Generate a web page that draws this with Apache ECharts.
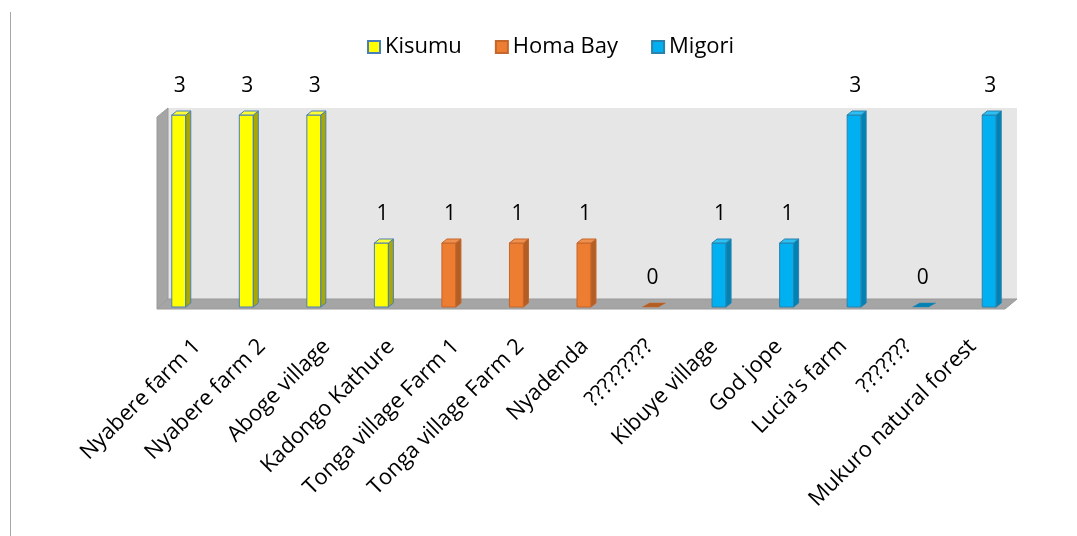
<!DOCTYPE html>
<html lang="en">
  <head>
    <meta charset="utf-8" />
    <title>Sites per county</title>
    <script src="https://cdn.jsdelivr.net/npm/echarts@6/dist/echarts.min.js"></script>
    <style>
      html, body { margin: 0; padding: 0; background: #fff; }
      #chart { width: 1077px; height: 536px; }
    </style>
  </head>
  <body>
    <div id="chart"></div>
    <script>
      var categories = ['Nyabere farm 1', 'Nyabere farm 2', 'Aboge village', 'Kadongo Kathure',
        'Tonga village Farm 1', 'Tonga village Farm 2', 'Nyadenda', '?????????',
        'Kibuye village', 'God jope', "Lucia's farm", '???????', 'Mukuro natural forest']
      var kisumu = [3, 3, 3, 1, null, null, null, null, null, null, null, null, null]
      var homaBay = [null, null, null, null, 1, 1, 1, 0, null, null, null, null, null]
      var migori = [null, null, null, null, null, null, null, null, 1, 1, 3, 0, 3]

      var FONT = '"Open Sans", sans-serif'

      // colours for the fake 3d columns: front, side, top, outline
      var looks = {
        Kisumu: { front: '#ffff00', side: '#a8a800', top: '#ffff33', line: '#4a7ebb' },
        'Homa Bay': { front: '#ed7d31', side: '#b25e24', top: '#f0904f', line: '#c5662a' },
        Migori: { front: '#00b0f0', side: '#0083b4', top: '#2cbff3', line: '#2a82ad' }
      }

      function toPairs(vals) {
        var out = []
        vals.forEach(function (v, i) {
          if (v !== null) out.push([i, v])
        })
        return out
      }

      function makeRender(look) {
        return function (params, api) {
          var idx = api.value(0)
          var v = api.value(1)
          var top = api.coord([idx, v])
          var base = api.coord([idx, 0])
          var w = 14, d = 5, dy = 4
          var l = top[0] - w / 2, r = top[0] + w / 2
          var kids = []
          if (v > 0) {
            kids.push({
              type: 'rect',
              shape: { x: l, y: top[1], width: w, height: base[1] - top[1] },
              style: { fill: look.front, stroke: look.line, lineWidth: 1 }
            })
            kids.push({
              type: 'polygon',
              shape: { points: [[r, top[1]], [r + d, top[1] - dy], [r + d, base[1] - dy], [r, base[1]]] },
              style: { fill: look.side, stroke: look.line, lineWidth: 1 }
            })
            kids.push({
              type: 'polygon',
              shape: { points: [[l, top[1]], [l + d, top[1] - dy], [r + d, top[1] - dy], [r, top[1]]] },
              style: { fill: look.top, stroke: look.line, lineWidth: 1 }
            })
          } else {
            // a zero value is just the lid lying on the floor
            kids.push({
              type: 'polygon',
              shape: { points: [[l - 2, base[1]], [l + d, base[1] - dy], [r + d + 2, base[1] - dy], [r, base[1]]] },
              style: { fill: look.side, stroke: look.line, lineWidth: 0.5 }
            })
          }
          kids.push({
            type: 'text',
            style: {
              text: String(v), x: top[0] + 1, y: top[1] - 29,
              align: 'center', verticalAlign: 'middle',
              font: '21px ' + FONT, fill: '#000'
            }
          })
          return { type: 'group', children: kids }
        }
      }

      function colSeries(name, vals) {
        var look = looks[name]
        return {
          name: name,
          type: 'custom',
          xAxisIndex: 0,
          yAxisIndex: 0,
          data: toPairs(vals),
          encode: { x: 0, y: 1 },
          itemStyle: { color: look.front, borderColor: look.line, borderWidth: 1 },
          renderItem: makeRender(look),
          z: 3
        }
      }

      var chart = echarts.init(document.getElementById('chart'))
      chart.setOption({
        animation: false,
        textStyle: { fontFamily: FONT },
        legend: {
          top: 31,
          left: 362,
          itemWidth: 12,
          itemHeight: 12,
          itemGap: 33,
          icon: 'rect',
          textStyle: { fontSize: 22, color: '#000', fontFamily: FONT },
          data: ['Kisumu', 'Homa Bay', 'Migori']
        },
        grid: [
          { left: 145, right: 54, top: 115, bottom: 229 },
          { left: 165, right: 72, top: 115, bottom: 201 }
        ],
        xAxis: [
          {
            type: 'category', gridIndex: 0, data: categories,
            axisLine: { show: false }, axisTick: { show: false }, axisLabel: { show: false }
          },
          {
            type: 'category', gridIndex: 1, data: categories,
            axisLine: { show: false }, axisTick: { show: false },
            axisLabel: { rotate: 45, margin: 8, interval: 0, fontSize: 22, color: '#000', fontFamily: FONT }
          }
        ],
        yAxis: [
          { type: 'value', gridIndex: 0, min: 0, max: 3, show: false },
          { type: 'value', gridIndex: 1, min: 0, max: 3, show: false }
        ],
        graphic: [
          { type: 'line', shape: { x1: 10.5, y1: 12, x2: 10.5, y2: 536 }, style: { stroke: '#a6a6a6', lineWidth: 1 } },
          { type: 'rect', shape: { x: 168, y: 108, width: 849, height: 191 }, style: { fill: '#e6e6e6' }, z: 0 },
          { type: 'polygon', shape: { points: [[157, 117], [168, 108], [168, 299], [157, 309]] }, style: { fill: '#a5a5a5', stroke: '#9a9a9a' }, z: 0 },
          { type: 'polygon', shape: { points: [[157, 309], [168, 299], [1017, 299], [1005, 309]] }, style: { fill: '#a5a5a5', stroke: '#9a9a9a' }, z: 0 }
        ],
        series: [
          colSeries('Kisumu', kisumu),
          colSeries('Homa Bay', homaBay),
          colSeries('Migori', migori)
        ]
      })
    </script>
  </body>
</html>
